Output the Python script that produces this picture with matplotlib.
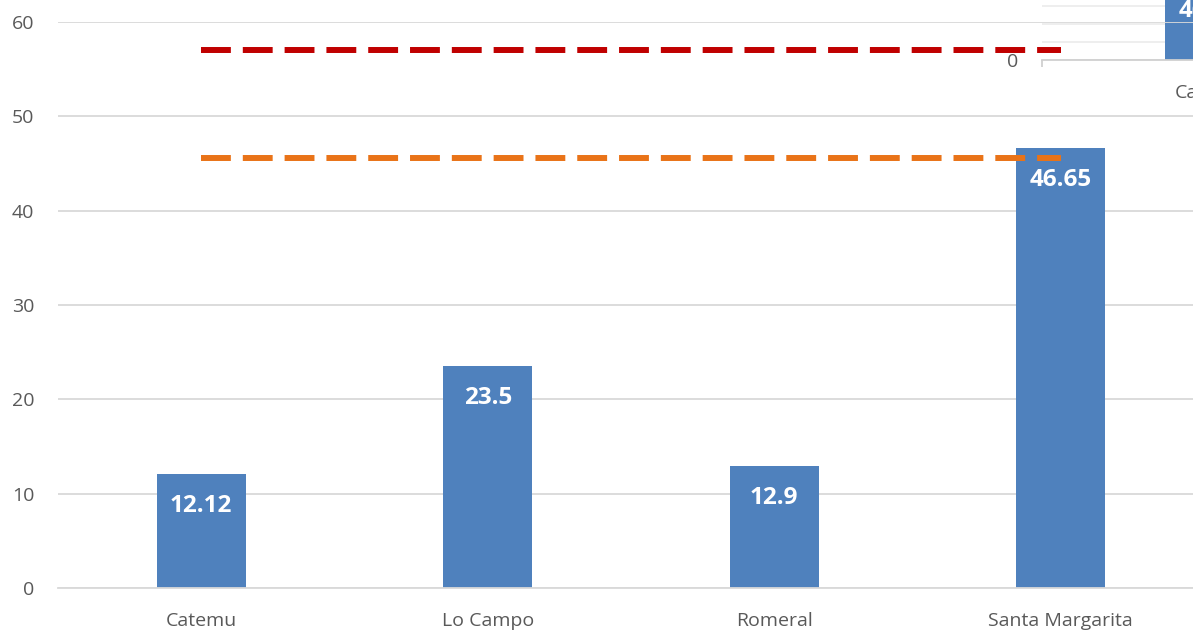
import numpy as np
import matplotlib.pyplot as plt

plt.rcParams['font.family'] = ['Open Sans', 'DejaVu Sans']

categories = ['Catemu', 'Lo Campo', 'Romeral', 'Santa Margarita']
values = [12.12, 23.5, 12.9, 46.65]
value_labels = ['12.12', '23.5', '12.9', '46.65']
red_limit = 57
orange_limit = 45.6

# fragment of a second chart pasted over the top right corner
inset_categories = ['Catemu']
inset_values = [44]
inset_labels = ['46.65']

bar_color = '#4F81BD'
grid_color = '#D9D9D9'
text_color = '#595959'

W, H = 1193, 632
fig = plt.figure(figsize=(W / 100, H / 100), dpi=100)
ax = fig.add_axes([58 / W, (H - 588) / H, (1204 - 58) / W, (588 - 22) / H])

x = np.arange(len(categories))
bars = ax.bar(x, values, width=0.31, color=bar_color, zorder=2)
for xi, v, lab in zip(x, values, value_labels):
    ax.annotate(lab, (xi, v), xytext=(0, -23), textcoords='offset points',
                ha='center', va='center', color='white', fontsize=17.5,
                fontweight='bold', zorder=4)

ax.set_xlim(-0.5, len(categories) - 0.5)
ax.set_ylim(0, 60)
ax.set_yticks(np.arange(0, 61, 10))
ax.set_xticks(x)
ax.set_xticklabels(categories)
ax.grid(axis='y', color=grid_color, lw=1.3, zorder=0)
for s in ['top', 'right', 'left']:
    ax.spines[s].set_visible(False)
ax.spines['bottom'].set_color(grid_color)
ax.spines['bottom'].set_linewidth(1.3)
ax.tick_params(axis='both', length=0, labelsize=14, labelcolor=text_color)
ax.tick_params(axis='y', pad=17)
ax.tick_params(axis='x', pad=17)

# inset fragment
ins = fig.add_axes([1042 / W, (H - 60) / H, 200 / W, 72 / H])
ins.patch.set_alpha(0)
ins.bar([0], inset_values, width=0.31, color=bar_color, zorder=2)
for v, lab in zip(inset_values, inset_labels):
    ins.annotate(lab, (0, v), xytext=(0, -22), textcoords='offset points',
                 ha='center', va='center', color='white', fontsize=17.5,
                 fontweight='bold', annotation_clip=False, zorder=4)
ins.set_xlim(-0.58, 0.11)
ins.set_ylim(0, 40)
ins.set_yticks(np.arange(0, 41, 10))
ins.set_yticklabels(['0', '', '', '', ''])
ins.set_xticks([0])
ins.set_xticklabels(inset_categories)
ins.set_xticks([-0.58], minor=True)
ins.grid(axis='y', color='#EDEDED', lw=1.3, zorder=0)
for s in ['top', 'right', 'left']:
    ins.spines[s].set_visible(False)
ins.spines['bottom'].set_color('#D0D0D0')
ins.spines['bottom'].set_linewidth(1.3)
ins.tick_params(axis='both', length=0, labelsize=14, labelcolor=text_color)
ins.tick_params(axis='y', pad=17)
ins.tick_params(axis='x', pad=17)
ins.tick_params(axis='x', which='minor', length=5, width=1.3, color='#D0D0D0')

# limit lines drawn above the pasted fragment
ax.set_zorder(ins.get_zorder() + 1)
ax.patch.set_alpha(0)
ax.plot([x[0], x[-1]], [red_limit, red_limit], color='#C00000', lw=4.3,
        ls=(0, (5, 2)), dash_capstyle='butt', zorder=3)
ax.plot([x[0], x[-1]], [orange_limit, orange_limit], color='#E97318', lw=4.3,
        ls=(0, (5, 2)), dash_capstyle='butt', zorder=3)

fig.savefig('out.png', dpi=100)
